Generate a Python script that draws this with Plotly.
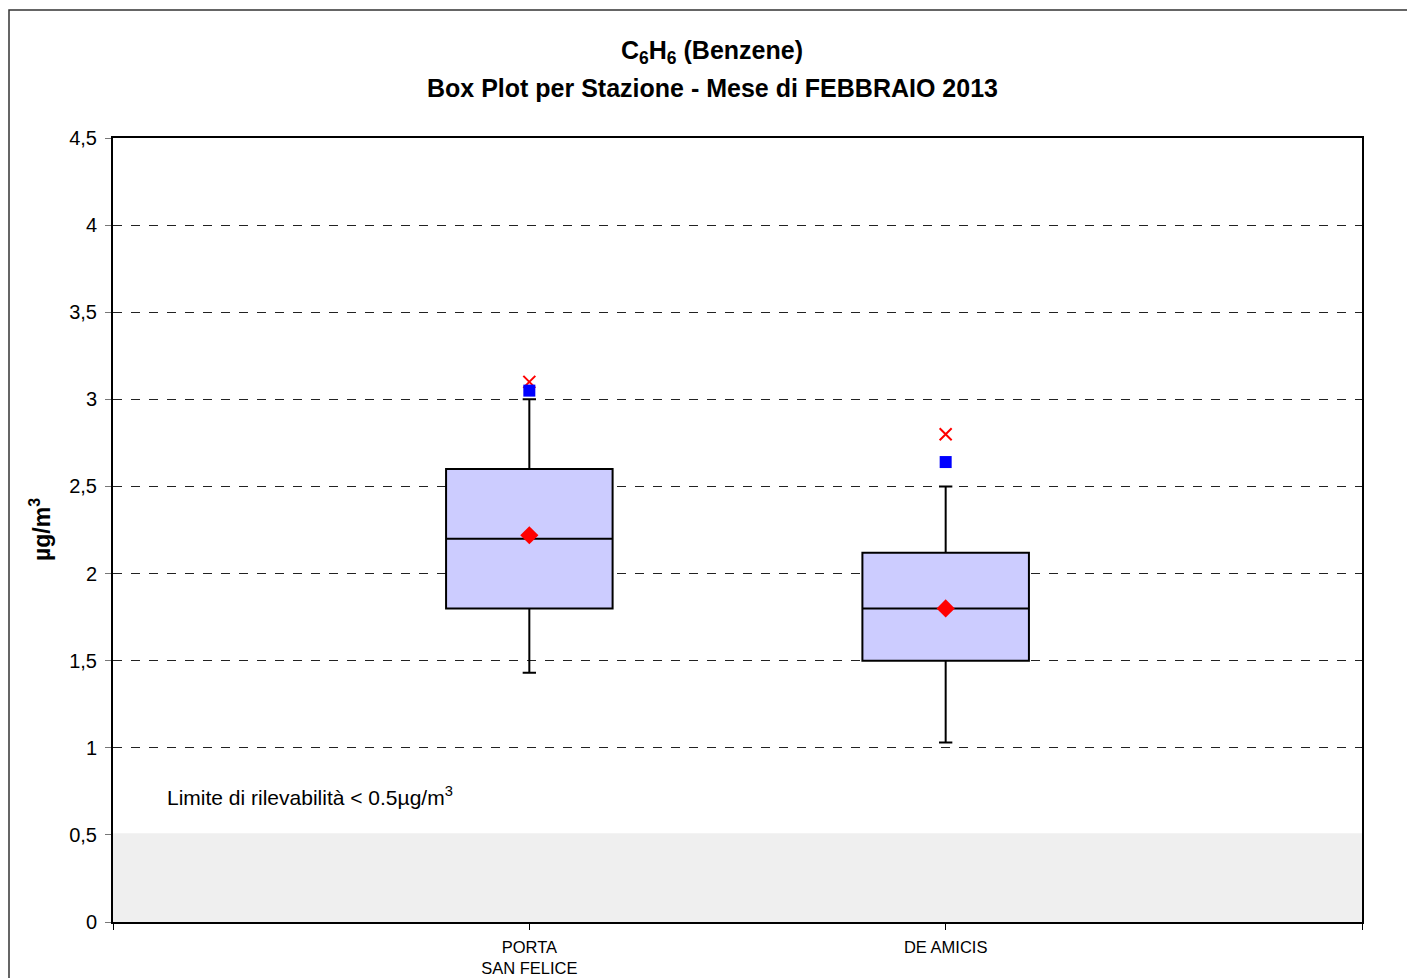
import plotly.graph_objects as go

stations = ["PORTA<br>SAN FELICE", "DE AMICIS"]
x_pos = [1, 2]
q1 = [1.80, 1.50]
median = [2.20, 1.80]
q3 = [2.60, 2.12]
lower_whisker = [1.43, 1.03]
upper_whisker = [3.00, 2.50]
mean = [2.22, 1.80]
p95 = [3.05, 2.64]
maximum = [3.10, 2.80]

y_ticks = [0, 0.5, 1, 1.5, 2, 2.5, 3, 3.5, 4, 4.5]
y_ticktext = ["0", "0,5", "1", "1,5", "2", "2,5", "3", "3,5", "4", "4,5"]

FONT = "Liberation Sans, Arial, sans-serif"

W, H = 1407, 978
L, T = 113, 138
PW, PH = 1249, 784

fig = go.Figure()

fig.add_trace(go.Box(
    x=x_pos, q1=q1, median=median, q3=q3,
    lowerfence=lower_whisker, upperfence=upper_whisker,
    width=0.4, whiskerwidth=0.08,
    fillcolor="#CCCCFF", line=dict(color="black", width=2),
    boxpoints=False, showlegend=False, hoverinfo="skip",
))

fig.add_trace(go.Scatter(
    x=x_pos, y=maximum, mode="markers",
    marker=dict(symbol="x-thin", size=12, line=dict(color="#FF0000", width=2)),
    showlegend=False,
))
fig.add_trace(go.Scatter(
    x=x_pos, y=p95, mode="markers",
    marker=dict(symbol="square", size=12, color="#0000FF"),
    showlegend=False,
))
fig.add_trace(go.Scatter(
    x=x_pos, y=mean, mode="markers",
    marker=dict(symbol="diamond", size=14, color="#FF0000"),
    showlegend=False,
))

# detection-limit band
fig.add_shape(type="rect", xref="x", yref="y", x0=0, x1=3, y0=0, y1=0.51,
              fillcolor="#EFEFEF", line=dict(width=0), layer="between")

# outer chart border
fig.add_shape(type="rect", xref="paper", yref="paper",
              x0=(9 - L) / PW, x1=1.2, y0=-0.3, y1=(T + PH - 10) / PH,
              line=dict(color="#333333", width=1.5), fillcolor="rgba(0,0,0,0)", layer="below")

fig.add_annotation(x=0.125, y=0.725, xref="x", yref="y", xanchor="left", yanchor="middle",
                   text="Limite di rilevabilità < 0.5µg/m<sup>3</sup>", showarrow=False,
                   font=dict(family=FONT, size=21, color="black"))

fig.add_annotation(x=(712 - L) / PW, y=(T + PH - 52) / PH, xref="paper", yref="paper",
                   xanchor="center", yanchor="middle",
                   text="<b>C<sub>6</sub>H<sub>6</sub> (Benzene)</b>", showarrow=False,
                   font=dict(family=FONT, size=25, color="black"))
fig.add_annotation(x=(712 - L) / PW, y=(T + PH - 88) / PH, xref="paper", yref="paper",
                   xanchor="center", yanchor="middle",
                   text="<b>Box Plot per Stazione - Mese di FEBBRAIO 2013</b>", showarrow=False,
                   font=dict(family=FONT, size=25, color="black"))

fig.add_annotation(x=(40 - L) / PW, y=0.5, xref="paper", yref="paper",
                   xanchor="center", yanchor="middle", textangle=-90,
                   text="<b>µg/m<sup>3</sup></b>", showarrow=False,
                   font=dict(family=FONT, size=23, color="black"))

fig.update_layout(
    width=W, height=H, autosize=False,
    margin=dict(l=L, r=W - L - PW, t=T, b=H - T - PH, pad=0),
    paper_bgcolor="white", plot_bgcolor="white",
    font=dict(family=FONT, color="black"),
)
fig.update_xaxes(
    range=[0, 3], tickmode="array", tickvals=[0, 1, 2, 3],
    ticktext=["", stations[0], stations[1], ""],
    ticks="outside", ticklen=6, tickcolor="black", tickwidth=1,
    ticklabelstandoff=3,
    showline=True, linecolor="black", linewidth=2, mirror=True,
    showgrid=False, zeroline=False, automargin=False,
    tickfont=dict(family=FONT, size=16.5, color="black"),
)
fig.update_yaxes(
    range=[0, 4.5], tickmode="array", tickvals=y_ticks, ticktext=y_ticktext,
    ticks="outside", ticklen=6, tickcolor="#777777", tickwidth=1,
    ticklabelstandoff=4,
    showline=True, linecolor="black", linewidth=2, mirror=True,
    showgrid=True, gridcolor="#222222", gridwidth=1, griddash="dash",
    zeroline=False, automargin=False,
    tickfont=dict(family=FONT, size=20, color="black"),
)

fig.write_html(
    "out.html",
    config={"responsive": False, "displayModeBar": False},
    post_script="document.body.style.margin='0';document.body.style.overflow='hidden';",
)
